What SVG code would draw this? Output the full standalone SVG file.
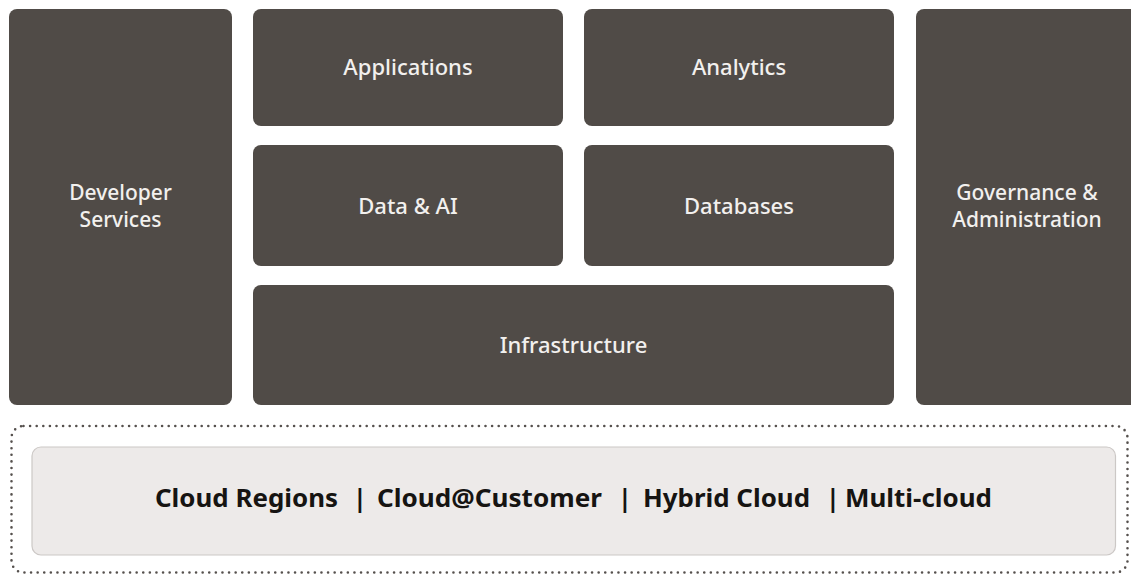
<svg xmlns="http://www.w3.org/2000/svg" width="1131" height="575" viewBox="0 0 1131 575">
<style>
.box{fill:#504B47}
.lbl{font-family:"Noto Sans","Open Sans",sans-serif;font-size:22px;font-weight:500;fill:#F2F0EE;text-anchor:middle}
.lbl2{font-family:"Noto Sans","Open Sans",sans-serif;font-size:21px;font-weight:500;fill:#F2F0EE;text-anchor:middle}
.bot{font-family:"Noto Sans","Open Sans",sans-serif;font-size:25px;font-weight:700;fill:#161412}
</style>
<rect width="1131" height="575" fill="#FFFFFF"/>
<g id="developer-services">
<rect class="box" x="9" y="9" width="223" height="396" rx="8"/>
<text class="lbl2" x="120.5" y="200">Developer</text>
<text class="lbl2" x="120.5" y="227">Services</text>
</g>
<g id="applications">
<rect class="box" x="253" y="9" width="310" height="117" rx="8"/>
<text class="lbl" x="408" y="75">Applications</text>
</g>
<g id="analytics">
<rect class="box" x="584" y="9" width="310" height="117" rx="8"/>
<text class="lbl" x="739" y="75">Analytics</text>
</g>
<g id="data-ai">
<rect class="box" x="253" y="145" width="310" height="121" rx="8"/>
<text class="lbl" x="408" y="214">Data &amp; AI</text>
</g>
<g id="databases">
<rect class="box" x="584" y="145" width="310" height="121" rx="8"/>
<text class="lbl" x="739" y="214">Databases</text>
</g>
<g id="infrastructure">
<rect class="box" x="253" y="285" width="641" height="120" rx="8"/>
<text class="lbl" x="573.5" y="353">Infrastructure</text>
</g>
<g id="governance-administration">
<rect class="box" x="916" y="9" width="230" height="396" rx="8"/>
<text class="lbl2" x="1027" y="199.5">Governance &amp;</text>
<text class="lbl2" x="1027" y="226.5">Administration</text>
</g>
<g id="deployment">
<rect x="11.5" y="426" width="1116" height="146.5" rx="12" fill="none" stroke="#55504D" stroke-width="2.6" stroke-linecap="round" stroke-dasharray="0 6.6"/>
<rect x="32" y="447" width="1083.5" height="108" rx="9" fill="#EDEAE9" stroke="#CCC8C6" stroke-width="1.2"/>
<text class="bot" x="155" y="507" textLength="183" lengthAdjust="spacingAndGlyphs">Cloud Regions</text>
<text class="bot" x="353" y="507">|</text>
<text class="bot" x="377" y="507" textLength="225" lengthAdjust="spacingAndGlyphs">Cloud@Customer</text>
<text class="bot" x="618" y="507">|</text>
<text class="bot" x="643" y="507" textLength="167" lengthAdjust="spacingAndGlyphs">Hybrid Cloud</text>
<text class="bot" x="826" y="507">|</text>
<text class="bot" x="845" y="507" textLength="147" lengthAdjust="spacingAndGlyphs">Multi-cloud</text>
</g>
<g id="connectors"></g>
</svg>
